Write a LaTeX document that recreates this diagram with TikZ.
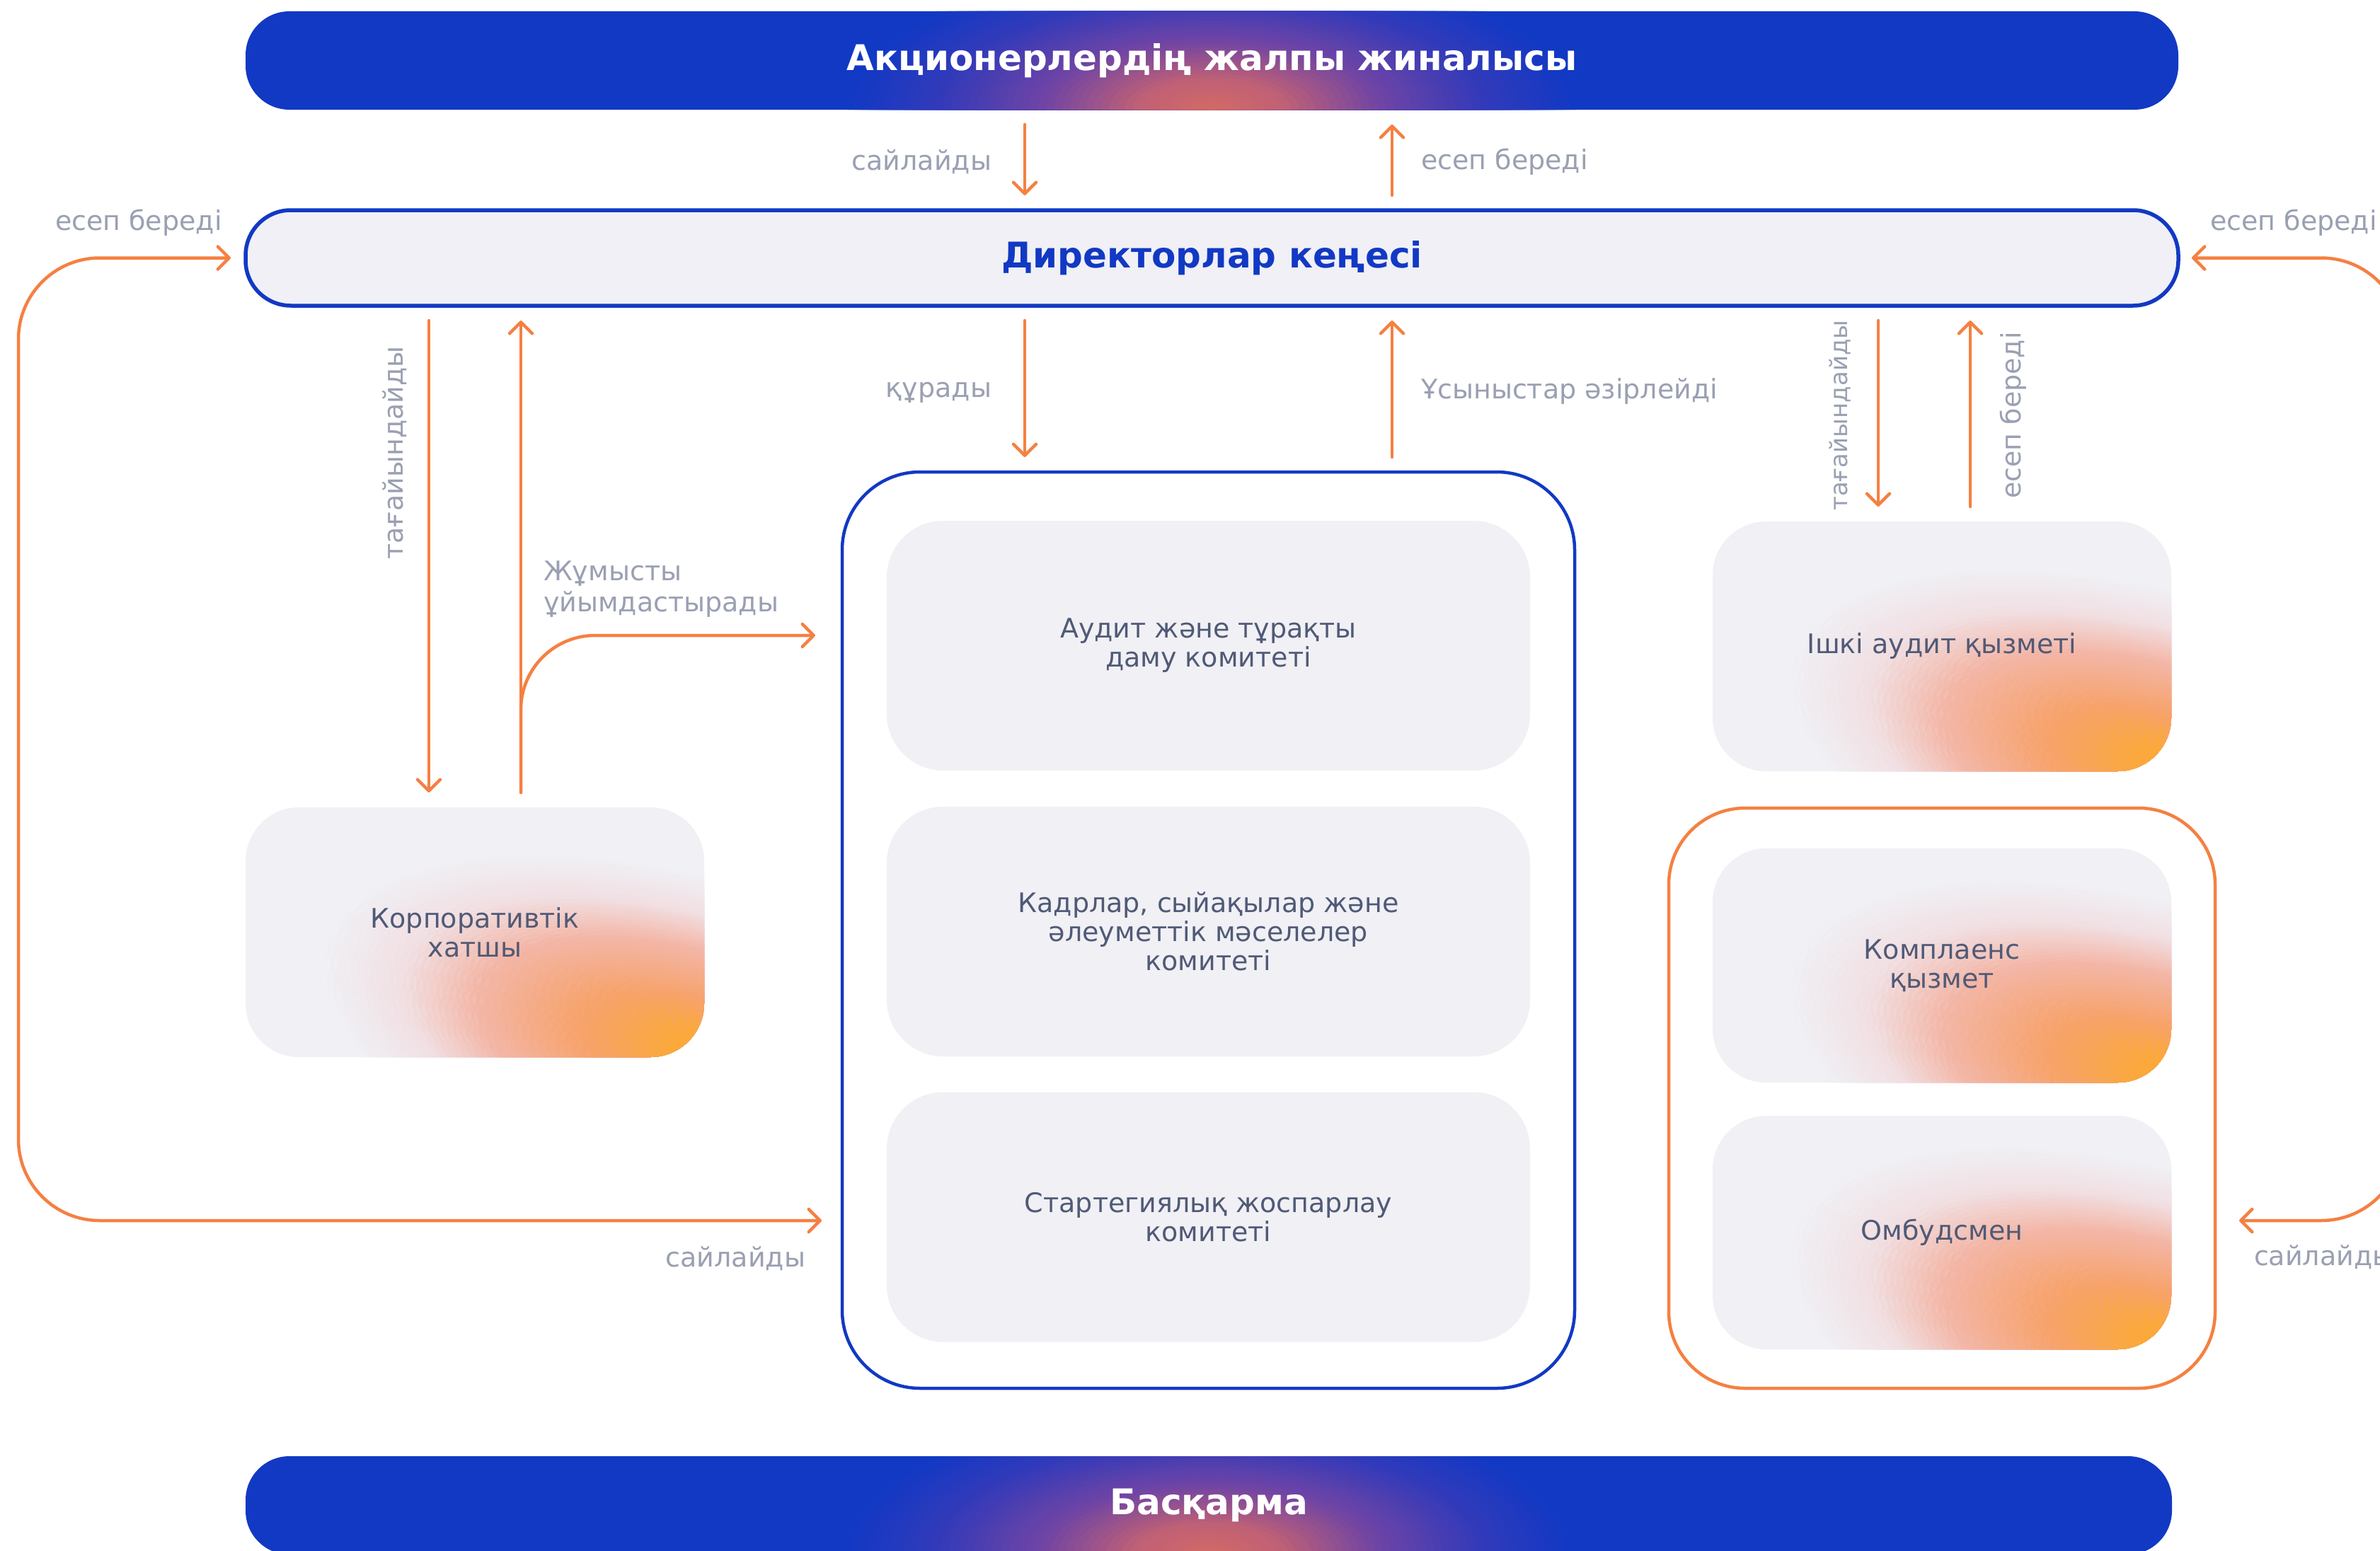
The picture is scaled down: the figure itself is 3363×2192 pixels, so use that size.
\documentclass[tikz,border=0pt]{standalone}
\usepackage{fontspec}
\setmainfont{DejaVu Sans}
\usetikzlibrary{arrows.meta,calc}
\definecolor{blueC}{RGB}{18,57,196}
\definecolor{boxbase}{RGB}{240,240,245}
\definecolor{boardfill}{RGB}{240,240,246}
\definecolor{lblgrey}{RGB}{154,160,178}
\definecolor{boxtext}{RGB}{80,90,118}
\definecolor{orangeC}{RGB}{245,128,66}
\definecolor{gA}{RGB}{252,170,50}
\definecolor{gB}{RGB}{247,163,108}
\definecolor{gC}{RGB}{243,182,166}
\definecolor{gD}{RGB}{241,224,227}
\definecolor{bA}{RGB}{212,106,100}
\definecolor{bB}{RGB}{190,96,118}
\definecolor{bC}{RGB}{110,68,165}
\definecolor{bD}{RGB}{50,58,186}
% stepped elliptic gradient: #1 centre, #2 x radius, #3 y radius, #4 outer r, #5 inner r, #6 outer colour, #7 inner colour
\newcommand\glowseg[7]{%
  \foreach \glk in {0,...,12}{%
    \pgfmathsetmacro\glr{#4-(#4-#5)*\glk/12}%
    \pgfmathsetmacro\glrx{\glr*#2}%
    \pgfmathsetmacro\glry{\glr*#3}%
    \pgfmathtruncatemacro\glmix{100*\glk/12}%
    \fill[#7!\glmix!#6] (#1) ellipse [x radius=\glrx pt, y radius=\glry pt];}}
% stepped diagonal elliptic gradient from the lower right corner of a box
\newcommand\eglowseg[4]{%
  \foreach \glk in {0,...,12}{%
    \pgfmathsetmacro\glr{#1-(#1-#2)*\glk/12}%
    \pgfmathsetmacro\gax{0.7071*\glr*1.30*648}%
    \pgfmathsetmacro\gbx{0.7071*\glr*0.80*648}%
    \pgfmathsetmacro\gay{0.7071*\glr*1.30*345}%
    \pgfmathsetmacro\gby{0.7071*\glr*0.80*345}%
    \pgfmathtruncatemacro\glmix{100*\glk/12}%
    \fill[#4!\glmix!#3] ($(path picture bounding box.south east)+({-\gax*1pt},{\gay*1pt})$)
      \foreach \glt in {10,20,...,350}{ -- ($(path picture bounding box.south east)+({(-\gax*cos(\glt)+\gbx*sin(\glt))*1pt},{(\gay*cos(\glt)+\gby*sin(\glt))*1pt})$)} -- cycle;}}
\newcommand\boxglow{%
  \eglowseg{0.78}{0.62}{boxbase}{gD}%
  \eglowseg{0.62}{0.46}{gD}{gC}%
  \eglowseg{0.46}{0.25}{gC}{gB}%
  \eglowseg{0.25}{0.00}{gB}{gA}}
\newcommand\barglow{%
  \glowseg{path picture bounding box.south}{560}{230}{0.92}{0.70}{blueC}{bD}%
  \glowseg{path picture bounding box.south}{560}{230}{0.70}{0.44}{bD}{bC}%
  \glowseg{path picture bounding box.south}{560}{230}{0.44}{0.20}{bC}{bB}%
  \glowseg{path picture bounding box.south}{560}{230}{0.20}{0.00}{bB}{bA}}
\tikzset{
  lbl/.style={text=lblgrey, font=\fontsize{38pt}{44pt}\selectfont, inner sep=0pt, outer sep=0pt},
  bar/.style={rectangle, rounded corners=62pt, fill=blueC, minimum height=139pt, inner sep=0pt, outer sep=0pt,
    text=white, font=\bfseries\fontsize{50pt}{56pt}\selectfont, path picture={\barglow}},
  boardbox/.style={rectangle, rounded corners=64pt, fill=boardfill, draw=blueC, line width=5.5pt, minimum width=2731pt, minimum height=135pt,
    inner sep=0pt, outer sep=0pt, text=blueC, font=\bfseries\fontsize{50pt}{56pt}\selectfont},
  container/.style={rectangle, fill=white, line width=4.5pt, inner sep=0pt, outer sep=0pt},
  combox/.style={rectangle, rounded corners=80pt, fill=boxbase, minimum width=909pt, minimum height=353pt, inner sep=0pt, outer sep=0pt,
    text=boxtext, align=center, font=\fontsize{38pt}{41pt}\selectfont},
  glowbox/.style={rectangle, rounded corners=76pt, fill=boxbase, minimum width=648pt, inner sep=0pt, outer sep=0pt,
    text=boxtext, align=center, font=\fontsize{38pt}{41pt}\selectfont, path picture={\boxglow}},
  arr/.style={draw=orangeC, line width=4.5pt, line cap=round, line join=round, shorten <=21pt, shorten >=21pt,
    -{Straight Barb[length=16pt,width=32pt,round]}},
  arrboth/.style={draw=orangeC, line width=4.5pt, line cap=round, line join=round,
    {Straight Barb[length=16pt,width=32pt,round]}-{Straight Barb[length=16pt,width=32pt,round]}}
}
\begin{document}
\begin{tikzpicture}[x=1pt,y=-1pt]
\useasboundingbox (0,0) rectangle (3363,2192);
\clip (0,0) rectangle (3363,2192);
\fill[white] (0,0) rectangle (3363,2192);

% main blocks
\node[bar, minimum width=2731pt] (gm) at (1712.5,85.5) {Акционерлердің жалпы жиналысы};
\node[boardbox] (board) at (1712.5,364.5) {Директорлар кеңесі};
\node[bar, minimum width=2722pt, minimum height=139pt] (mg) at (1708,2127.5) {Басқарма};

% committees
\node[container, draw=blueC, minimum width=1035pt, minimum height=1295pt, rounded corners=110pt] (comm) at (1707.5,1314.5) {};
\node[combox] (c1) at (1707.5,912.5) {Аудит және тұрақты\\даму комитеті};
\node[combox] (c2) at (1707.5,1316.5) {Кадрлар, сыйақылар және\\әлеуметтік мәселелер\\комитеті};
\node[combox] (c3) at (1707.5,1720) {Стартегиялық жоспарлау\\комитеті};

% secretary and audit
\node[glowbox, minimum height=353pt] (sec) at (671,1317.5) {Корпоративтік\\хатшы};
\node[glowbox, minimum height=353pt] (ia) at (2744,913.5) {Ішкі аудит қызметі};

% compliance group
\node[container, draw=orangeC, minimum width=772pt, minimum height=820pt, rounded corners=108pt] (oc) at (2744,1552) {};
\node[glowbox, minimum height=331pt] (comp) at (2744,1364.5) {Комплаенс\\қызмет};
\node[glowbox, minimum height=330pt] (omb) at (2744,1742) {Омбудсмен};

% helper coordinates
\coordinate (xL) at (1448,0);
\coordinate (xR) at (1967,0);
\coordinate (xS1) at (606,0);
\coordinate (xS2) at (736,0);
\coordinate (xI1) at (2654,0);
\coordinate (xI2) at (2784,0);
\coordinate (yj) at (0,898);
\coordinate (yb) at (0,1725);
\coordinate (lx) at (26,0);
\coordinate (rx) at (3395,0);

% arrows between top blocks
\draw[arr] (gm.south -| xL) -- (board.north -| xL);
\draw[arr] (board.north -| xR) -- (gm.south -| xR);
\draw[arr] (board.south -| xL) -- (comm.north -| xL);
\draw[arr] (comm.north -| xR) -- (board.south -| xR);

% secretary
\draw[arr] (board.south -| xS1) -- (sec.north -| xS1);
\draw[arr] (sec.north -| xS2) -- (board.south -| xS2);
\draw[arr, rounded corners=105pt, shorten >=38pt] (sec.north -| xS2) -- (xS2 |- yj) -- (comm.west |- yj);

% internal audit
\draw[arr] (board.south -| xI1) -- (ia.north -| xI1);
\draw[arr] (ia.north -| xI2) -- (board.south -| xI2);

% loops
\draw[arrboth, rounded corners=115pt, shorten <=21pt, shorten >=29pt] (board.west) -- (lx |- board.west) -- (lx |- yb) -- (comm.west |- yb);
\draw[arrboth, rounded corners=115pt, shorten <=19pt, shorten >=34pt] (board.east) -- (rx |- board.east) -- (rx |- yb) -- (oc.east |- yb);

% labels
\node[lbl, anchor=east] (l1) at (1401,229) {сайлайды};
\node[lbl, anchor=west] (l2) at (2008,229) {есеп береді};
\node[lbl, anchor=east] (l3) at (1401,555) {құрады};
\node[lbl, anchor=west] (l4) at (2008,553) {Ұсыныстар әзірлейді};
\node[lbl, rotate=90] (l5) at (558,640) {тағайындайды};
\node[lbl, anchor=west, align=left] (l6) at (768,833) {Жұмысты\\ұйымдастырады};
\node[lbl, rotate=90, font=\fontsize{34pt}{40pt}\selectfont] (l7) at (2600,587) {тағайындайды};
\node[lbl, rotate=90] (l8) at (2845,587) {есеп береді};
\node[lbl, anchor=west] (l9) at (78,315) {есеп береді};
\node[lbl, anchor=west] (l10) at (3123,315) {есеп береді};
\node[lbl, anchor=east] (l11) at (1138,1779) {сайлайды};
\node[lbl, anchor=west] (l12) at (3185,1777) {сайлайды};
\end{tikzpicture}
\end{document}
